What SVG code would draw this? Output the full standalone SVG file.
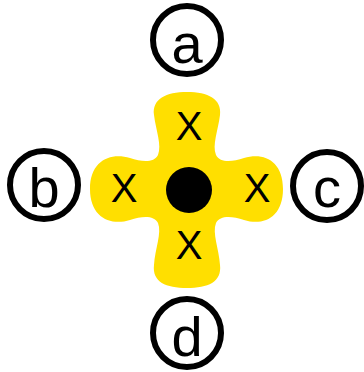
<svg xmlns="http://www.w3.org/2000/svg" width="364" height="372" viewBox="0 0 364 372">
<style>
.lbl circle{fill:#fff;stroke:#000;stroke-width:6}
.lbl text{font-family:"Liberation Sans",Arial,sans-serif;font-size:56px;text-anchor:middle;fill:#000}
.x{font-family:"Liberation Sans",Arial,sans-serif;font-size:40px;text-anchor:middle;fill:#000}
</style>
<rect width="364" height="372" fill="#fff"/>
<g id="cross">
<path fill="#FFDF00" d="M187,92 C208,92 222,99 220,115 C218,131 212,145 216,155 C220,163 232,162 244,158 C263,152 283,160 283,189 C283,218 263,226 244,220 C232,216 220,215 216,223 C212,233 219,249 220,265 C222,282 208,288 187,288 C166,288 152,282 154,265 C155,249 162,233 158,223 C154,215 142,216 130,220 C111,226 90,218 90,189 C90,160 111,152 130,158 C142,162 154,163 158,155 C162,145 156,131 154,115 C152,99 166,92 187,92 Z"/>
<circle cx="189" cy="190" r="23" fill="#000"/>
<text class="x" x="189" y="140">X</text>
<text class="x" x="124" y="202">X</text>
<text class="x" x="257" y="202">X</text>
<text class="x" x="189" y="259">X</text>
</g>
<g id="connectors"/>
<g id="a" class="lbl"><circle cx="187" cy="40" r="34"/><text x="187" y="63">a</text></g>
<g id="b" class="lbl"><circle cx="44" cy="185" r="34"/><text x="44" y="207">b</text></g>
<g id="c" class="lbl"><circle cx="327" cy="186" r="34"/><text x="327" y="207">c</text></g>
<g id="d" class="lbl"><circle cx="187" cy="333" r="34"/><text x="187" y="356">d</text></g>
</svg>
